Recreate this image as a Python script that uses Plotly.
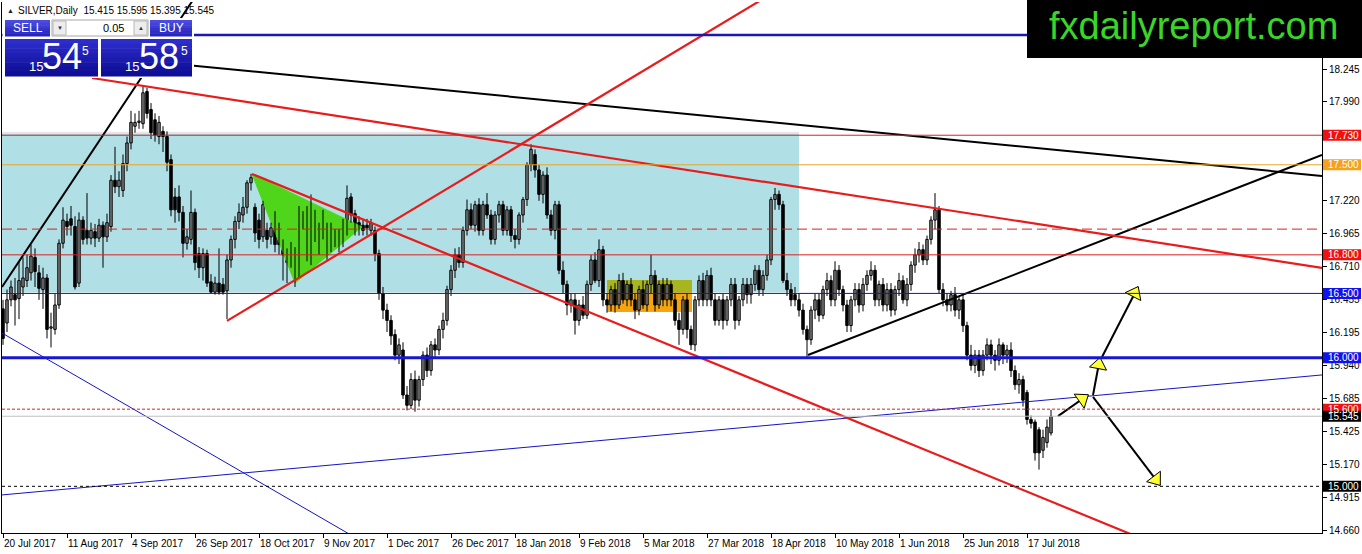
import math
import plotly.graph_objects as go

# ---------------- data ----------------
symbol = "SILVER,Daily"

x_tick_labels = ["20 Jul 2017", "11 Aug 2017", "4 Sep 2017", "26 Sep 2017", "18 Oct 2017",
                 "9 Nov 2017", "1 Dec 2017", "26 Dec 2017", "18 Jan 2018", "9 Feb 2018",
                 "5 Mar 2018", "27 Mar 2018", "18 Apr 2018", "10 May 2018", "1 Jun 2018",
                 "25 Jun 2018", "17 Jul 2018"]
x_tick_bars = [0, 16, 32, 48, 64, 80, 96, 112, 128, 144, 160, 176, 192, 208, 224, 240, 256]

y_tick_values = [18.245, 17.990, 17.735, 17.480, 17.220, 16.965, 16.710, 16.455,
                 16.195, 15.940, 15.685, 15.425, 15.170, 14.915, 14.660]
# tick labels fully covered by the price-label boxes in the reference
y_tick_hidden = [17.735, 17.480]

opens = [
 16.38,16.27,16.45,16.49,16.46,16.55,16.60,16.66,16.78,16.66,
 16.53,16.62,16.23,16.22,16.41,16.89,17.06,17.08,17.02,16.58,
 17.07,16.99,16.93,16.98,16.93,17.03,16.94,17.02,17.38,17.33,
 17.30,17.51,17.67,17.80,17.83,17.82,18.07,17.93,17.85,17.72,
 17.76,17.72,17.54,17.25,17.25,17.13,16.89,16.92,17.13,16.81,
 16.70,16.81,16.59,16.51,16.58,16.57,16.52,16.76,16.92,17.06,
 17.11,17.17,17.36,17.17,17.07,16.94,16.99,16.94,17.09,17.02,
 16.88,16.74,16.81,16.66,16.68,17.07,17.15,16.78,16.97,16.89,
 16.97,16.99,16.89,16.97,16.94,16.93,16.99,17.25,17.12,17.05,
 17.03,17.03,16.99,16.99,16.81,16.50,16.37,16.29,16.18,16.02,
 16.06,15.71,15.63,15.83,15.67,15.83,16.02,15.90,16.10,16.06,
 16.22,16.29,16.53,16.68,16.80,16.74,16.99,17.15,17.03,17.19,
 16.99,17.19,17.11,16.92,17.11,17.19,16.99,17.15,16.95,16.92,
 17.11,17.23,17.50,17.58,17.46,17.27,17.42,17.11,16.99,17.19,
 16.68,16.57,16.41,16.45,16.29,16.41,16.33,16.57,16.76,16.60,
 16.84,16.45,16.41,16.53,16.41,16.60,16.45,16.57,16.45,16.37,
 16.53,16.41,16.57,16.64,16.41,16.57,16.45,16.57,16.45,16.29,
 16.22,16.45,16.22,16.10,16.45,16.60,16.45,16.64,16.45,16.29,
 16.45,16.29,16.45,16.57,16.29,16.45,16.57,16.49,16.57,16.68,
 16.53,16.64,16.76,17.23,17.27,17.19,16.60,16.53,16.49,16.45,
 16.37,16.22,16.14,16.37,16.45,16.33,16.53,16.60,16.45,16.68,
 16.53,16.41,16.25,16.45,16.53,16.41,16.57,16.64,16.68,16.45,
 16.57,16.41,16.53,16.37,16.53,16.60,16.45,16.57,16.72,16.80,
 16.84,16.76,16.92,17.07,17.15,16.53,16.45,16.41,16.49,16.37,
 16.45,16.25,16.02,15.94,16.02,15.90,16.02,16.10,16.02,15.98,
 16.10,16.02,16.06,15.90,15.79,15.83,15.73,15.52,15.50,15.44,
 15.28,15.34,15.415]

highs = [
 16.45,16.53,16.60,16.62,16.75,16.78,16.80,16.88,16.85,16.72,
 16.70,16.65,16.35,16.50,16.92,17.17,17.12,17.18,17.10,17.13,
 17.10,17.28,17.05,17.04,17.08,17.06,17.12,17.42,17.64,17.45,
 17.58,17.72,17.92,17.90,17.92,18.12,18.10,17.98,17.90,17.88,
 17.80,17.76,17.58,17.32,17.34,17.18,17.00,17.30,17.16,16.86,
 16.85,16.84,16.65,16.63,16.85,16.62,16.80,16.95,17.10,17.20,
 17.25,17.38,17.43,17.20,17.12,17.22,17.05,17.05,17.14,17.05,
 16.92,16.85,16.90,16.86,17.18,17.14,17.18,17.27,17.15,17.05,
 17.15,17.05,17.05,17.00,17.00,17.08,17.34,17.28,17.15,17.10,
 17.08,17.08,17.08,17.02,16.84,16.55,16.42,16.33,16.22,16.15,
 16.12,15.78,15.88,15.90,15.86,16.05,16.08,16.13,16.15,16.25,
 16.35,16.56,16.72,16.85,16.86,17.02,17.23,17.20,17.22,17.24,
 17.22,17.28,17.15,17.14,17.22,17.22,17.18,17.18,17.00,17.13,
 17.25,17.52,17.66,17.62,17.50,17.45,17.48,17.15,17.22,17.22,
 16.75,16.60,16.50,16.50,16.45,16.48,16.60,16.80,16.82,16.92,
 16.87,16.50,16.56,16.58,16.65,16.66,16.60,16.62,16.50,16.56,
 16.60,16.60,16.80,16.68,16.60,16.62,16.62,16.60,16.50,16.35,
 16.48,16.50,16.25,16.48,16.64,16.66,16.68,16.70,16.50,16.48,
 16.50,16.48,16.62,16.62,16.48,16.62,16.62,16.62,16.72,16.72,
 16.68,16.80,17.25,17.32,17.30,17.22,16.66,16.58,16.55,16.50,
 16.42,16.25,16.40,16.50,16.50,16.56,16.66,16.64,16.75,16.72,
 16.56,16.45,16.48,16.58,16.58,16.62,16.68,16.75,16.72,16.60,
 16.62,16.58,16.58,16.56,16.66,16.64,16.62,16.75,16.85,16.90,
 16.88,16.95,17.10,17.28,17.18,16.58,16.50,16.52,16.55,16.48,
 16.50,16.28,16.10,16.06,16.06,16.06,16.15,16.14,16.06,16.15,
 16.12,16.10,16.12,15.94,15.88,15.86,15.75,15.55,15.52,15.46,
 15.44,15.52,15.595]

lows = [
 16.10,16.20,16.40,16.25,16.30,16.48,16.55,16.60,16.55,16.45,
 16.38,16.15,16.08,16.18,16.38,16.85,16.95,16.95,16.53,16.55,
 16.88,16.88,16.88,16.86,16.90,16.70,16.90,16.98,17.28,17.25,
 17.25,17.45,17.62,17.75,17.78,17.78,17.86,17.70,17.68,17.66,
 17.60,17.45,17.10,17.05,17.06,16.78,16.84,16.88,16.68,16.62,
 16.60,16.55,16.50,16.49,16.49,16.49,16.30,16.70,16.85,17.00,
 17.05,17.12,17.30,16.90,16.85,16.90,16.85,16.88,16.82,16.80,
 16.60,16.58,16.70,16.55,16.62,17.00,16.75,16.72,16.90,16.80,
 16.92,16.75,16.82,16.86,16.82,16.86,16.95,17.05,16.95,16.95,
 16.95,16.95,16.95,16.75,16.45,16.30,16.20,16.10,15.98,15.95,
 15.68,15.59,15.60,15.58,15.62,15.78,15.85,15.86,16.00,16.02,
 16.15,16.25,16.48,16.62,16.70,16.70,16.95,17.00,16.98,16.95,
 16.95,17.08,16.88,16.88,17.05,16.95,16.95,16.90,16.85,16.88,
 17.05,17.18,17.45,17.40,17.22,17.20,17.08,16.95,16.92,16.65,
 16.50,16.33,16.35,16.18,16.25,16.30,16.30,16.52,16.58,16.55,
 16.40,16.35,16.36,16.35,16.38,16.42,16.40,16.40,16.30,16.33,
 16.38,16.36,16.50,16.36,16.38,16.40,16.40,16.40,16.25,16.10,
 16.18,16.15,16.06,16.05,16.40,16.40,16.40,16.40,16.25,16.25,
 16.22,16.25,16.40,16.22,16.25,16.40,16.42,16.42,16.52,16.48,
 16.48,16.60,16.72,17.15,17.15,16.58,16.48,16.40,16.40,16.32,
 16.18,16.00,16.10,16.30,16.28,16.30,16.48,16.40,16.40,16.48,
 16.36,16.20,16.20,16.40,16.35,16.36,16.52,16.60,16.40,16.40,
 16.36,16.36,16.32,16.33,16.48,16.42,16.40,16.52,16.66,16.74,
 16.72,16.72,16.88,17.00,16.50,16.40,16.36,16.36,16.32,16.30,
 16.20,15.98,15.90,15.88,15.85,15.86,15.98,15.95,15.90,15.94,
 15.95,15.96,15.85,15.75,15.72,15.62,15.48,15.45,15.20,15.13,
 15.22,15.30,15.395]

closes = [
 16.15,16.45,16.55,16.45,16.60,16.62,16.70,16.79,16.67,16.54,
 16.62,16.22,16.24,16.41,16.89,17.07,17.02,17.03,16.55,17.07,
 16.92,16.93,16.99,16.93,17.03,16.94,17.05,17.38,17.33,17.38,
 17.51,17.67,17.83,17.83,17.84,18.06,17.90,17.75,17.73,17.83,
 17.72,17.52,17.15,17.15,17.13,16.89,16.94,17.13,16.74,16.70,
 16.81,16.58,16.51,16.58,16.51,16.51,16.76,16.92,17.06,17.13,
 17.17,17.36,17.40,16.97,16.92,17.19,16.92,17.01,16.88,16.88,
 16.80,16.81,16.78,16.81,17.13,17.09,16.81,17.17,17.09,16.98,
 17.09,16.81,16.99,16.92,16.90,17.02,17.24,17.11,16.99,17.01,
 16.99,17.01,17.05,16.81,16.50,16.37,16.29,16.17,16.02,16.10,
 15.71,15.63,15.83,15.67,15.83,16.02,15.90,16.10,16.06,16.22,
 16.29,16.53,16.68,16.80,16.74,16.99,17.15,17.03,17.19,16.99,
 17.19,17.11,16.92,17.11,17.19,16.99,17.15,16.95,16.92,17.11,
 17.23,17.50,17.62,17.46,17.27,17.42,17.11,16.99,17.19,16.68,
 16.57,16.41,16.45,16.29,16.41,16.33,16.57,16.76,16.60,16.84,
 16.45,16.41,16.53,16.41,16.60,16.45,16.57,16.45,16.37,16.53,
 16.41,16.57,16.64,16.41,16.57,16.45,16.57,16.45,16.29,16.22,
 16.45,16.22,16.10,16.45,16.60,16.45,16.64,16.45,16.29,16.45,
 16.29,16.45,16.57,16.29,16.45,16.57,16.49,16.57,16.68,16.53,
 16.64,16.76,17.23,17.27,17.19,16.60,16.53,16.45,16.45,16.37,
 16.22,16.14,16.37,16.45,16.33,16.53,16.60,16.45,16.68,16.53,
 16.41,16.25,16.45,16.53,16.41,16.57,16.64,16.68,16.45,16.57,
 16.41,16.53,16.37,16.53,16.60,16.45,16.57,16.72,16.80,16.84,
 16.76,16.92,17.07,17.15,16.53,16.45,16.41,16.49,16.37,16.45,
 16.25,16.02,15.94,16.02,15.90,16.02,16.10,16.02,15.98,16.10,
 16.02,16.06,15.90,15.79,15.83,15.67,15.52,15.49,15.26,15.26,
 15.38,15.46,15.545]

# horizontal price levels
level_blue_top = 18.51
level_red_1 = 17.730
level_orange = 17.500
level_red_dash = 17.00
level_red_2 = 16.800
level_blue_1 = 16.500
level_blue_2 = 16.000
level_red_dot = 15.600
level_bid = 15.545
level_black_dot = 15.000

# trend lines (bar index, price)
tl_black_left_x, tl_black_left_y = [-0.25, 47.25], [16.55, 18.77]
tl_black_top_x, tl_black_top_y = [35.5, 329.75], [18.308, 17.413]
tl_red_upper_x, tl_red_upper_y = [22.25, 329.75], [18.175, 16.698]
tl_red_down_x, tl_red_down_y = [62.25, 282.5], [17.429, 14.621]
tl_red_up_x, tl_red_up_y = [56.0, 190.0], [16.286, 18.79]
tl_black_right_x, tl_black_right_y = [201.25, 329.75], [16.021, 17.577]
tl_blue_up_x, tl_blue_up_y = [-0.25, 329.75], [14.933, 15.866]
tl_blue_down_x, tl_blue_down_y = [-0.25, 90.0], [16.192, 14.567]

# zones
zone_blue_x, zone_blue_y = [-0.5, 199.0], [16.51, 17.75]
zone_box_x, zone_box_y = [151.0, 172.25], [16.356, 16.505, 16.605]
tri_x = [62.25, 73.0, 89.75]
tri_y = [17.429, 16.581, 17.017]

# projection arrows (bar index, price)
arrows = [
    ([263.75, 271.25], [15.546, 15.710]),
    ([272.5, 274.25], [15.710, 15.998]),
    ([274.75, 283.75], [16.006, 16.550]),
    ([272.5, 289.25], [15.695, 15.010]),
]

sell_price = "15.545"
buy_price = "15.585"
lot = "0.05"

# ---------------- layout geometry ----------------
W, H = 1362, 554
ML, MR, MT, MB = 2, 40, 2, 21
PW, PH = W - ML - MR, H - MT - MB
XR = [-0.25, 329.75]
YR = [14.637, 18.766]
SX = PW / (XR[1] - XR[0])
SY = PH / (YR[1] - YR[0])


def pxx(p):
    return (p - ML) / PW


def pxy(p):
    return (H - MB - p) / PH


def py_price(v):
    return (v - YR[0]) / (YR[1] - YR[0])


n = len(closes)
bars = list(range(n))

fig = go.Figure()

# background zones (shapes below traces)
shapes = []
shapes.append(dict(type="rect", xref="x", yref="y", layer="below",
                   x0=zone_blue_x[0], x1=zone_blue_x[1], y0=zone_blue_y[0], y1=zone_blue_y[1],
                   fillcolor="#B0DFE5", line=dict(width=0)))
shapes.append(dict(type="line", xref="x", yref="y", layer="below",
                   x0=zone_blue_x[0], x1=zone_blue_x[1], y0=zone_blue_y[1], y1=zone_blue_y[1],
                   line=dict(color="#E4E8EA", width=2)))
shapes.append(dict(type="rect", xref="x", yref="y", layer="below",
                   x0=zone_box_x[0], x1=zone_box_x[1], y0=zone_box_y[1], y1=zone_box_y[2],
                   fillcolor="#A9B51F", line=dict(width=0)))
shapes.append(dict(type="rect", xref="x", yref="y", layer="below",
                   x0=zone_box_x[0], x1=zone_box_x[1], y0=zone_box_y[0], y1=zone_box_y[1],
                   fillcolor="#F7A50C", line=dict(width=0)))

# green triangle
fig.add_trace(go.Scatter(x=tri_x + [tri_x[0]], y=tri_y + [tri_y[0]], mode="lines",
                         fill="toself", fillcolor="#4FD61B", line=dict(color="#4FD61B", width=1),
                         hoverinfo="skip", showlegend=False))

# candles: wicks + bodies (MT4 style: white bull, black bear)
wick_x, wick_y = [], []
for i in bars:
    wick_x += [i, i, None]
    wick_y += [lows[i], highs[i], None]
fig.add_trace(go.Scatter(x=wick_x, y=wick_y, mode="lines", line=dict(color="black", width=1),
                         hoverinfo="skip", showlegend=False))

bull = [i for i in bars if closes[i] >= opens[i]]
bear = [i for i in bars if closes[i] < opens[i]]
for idx, fill in ((bull, "white"), (bear, "black")):
    fig.add_trace(go.Bar(
        x=idx,
        base=[min(opens[i], closes[i]) for i in idx],
        y=[max(abs(closes[i] - opens[i]), 0.006) for i in idx],
        width=0.62, marker=dict(color=fill, line=dict(color="black", width=1)),
        hoverinfo="skip", showlegend=False))

# trend lines
def tline(xs, ys, color, width):
    fig.add_trace(go.Scatter(x=xs, y=ys, mode="lines", line=dict(color=color, width=width),
                             hoverinfo="skip", showlegend=False))

tline(tl_blue_up_x, tl_blue_up_y, "#1414C8", 1)
tline(tl_blue_down_x, tl_blue_down_y, "#1414C8", 1)
tline(tl_black_top_x, tl_black_top_y, "#000000", 2)
tline(tl_black_left_x, tl_black_left_y, "#000000", 2)
tline(tl_black_right_x, tl_black_right_y, "#000000", 2)
tline(tl_red_upper_x, tl_red_upper_y, "#E81C1C", 2.2)
tline(tl_red_down_x, tl_red_down_y, "#E81C1C", 2.2)
tline(tl_red_up_x, tl_red_up_y, "#E81C1C", 2.2)

# arrows: black lines + yellow heads
head_x, head_y, head_a = [], [], []
for xs, ys in arrows:
    tline(xs, ys, "#000000", 2)
    dxp = (xs[1] - xs[0]) * SX
    dyp = -(ys[1] - ys[0]) * SY
    L = math.hypot(dxp, dyp)
    ux, uy = dxp / L, dyp / L
    head_x.append(xs[1] - 7 * ux / SX)
    head_y.append(ys[1] + 7 * uy / SY)
    head_a.append(math.degrees(math.atan2(dxp, -dyp)))
fig.add_trace(go.Scatter(x=head_x, y=head_y, mode="markers",
                         marker=dict(symbol="triangle-up", size=15, angle=head_a,
                                     color="#FFFF33", line=dict(color="black", width=1)),
                         hoverinfo="skip", showlegend=False))

# horizontal levels (above candles)
def hline(v, color, width, dash="solid"):
    shapes.append(dict(type="line", xref="paper", yref="y", layer="above",
                       x0=0, x1=1, y0=v, y1=v, line=dict(color=color, width=width, dash=dash)))

hline(level_bid, "#C0C0C0", 1)
hline(level_red_1, "#D92020", 1)
hline(level_orange, "#E9A426", 1)
hline(level_red_dash, "#D92020", 1, "10px,5px")
hline(level_red_2, "#D92020", 1)
hline(level_blue_1, "#16169A", 1)
hline(level_blue_2, "#1717D0", 3)
hline(level_red_dot, "#D92020", 1, "3px,2px")
hline(level_black_dot, "#000000", 1, "3px,3px")
hline(level_blue_top, "#1818B8", 2.5)

annotations = []

# price label boxes on the axis
label_boxes = [
    (level_red_1, "#F01010"), (level_orange, "#F5A11C"), (level_red_2, "#F01010"),
    (level_blue_1, "#1010F0"), (level_blue_2, "#1010F0"), (level_red_dot, "#F01010"),
    (level_bid, "#000000"), (level_black_dot, "#000000"),
]
for v, c in label_boxes:
    yc = py_price(v)
    h = 5.5 / PH
    shapes.append(dict(type="rect", xref="paper", yref="paper", layer="above",
                       x0=pxx(1323), x1=pxx(1361), y0=yc - h, y1=yc + h,
                       fillcolor=c, line=dict(width=0)))
    annotations.append(dict(xref="paper", yref="paper", x=pxx(1326), y=yc, xanchor="left",
                            yanchor="middle", text="%.3f" % v, showarrow=False,
                            font=dict(family="Liberation Sans", size=10, color="white")))

# ---- trading panel ----
def prect(x0, y0, x1, y1, fill, lc=None, lw=0):
    shapes.append(dict(type="rect", xref="paper", yref="paper", layer="above",
                       x0=pxx(x0), x1=pxx(x1), y0=pxy(y1), y1=pxy(y0),
                       fillcolor=fill, line=dict(color=lc or fill, width=lw)))

def grad(x0, y0, x1, y1, top, bottom, steps=6):
    def hx(c):
        return [int(c[i:i + 2], 16) for i in (1, 3, 5)]
    a, b = hx(top), hx(bottom)
    hgt = (y1 - y0) / steps
    for s in range(steps):
        t = s / (steps - 1)
        col = "#%02X%02X%02X" % tuple(int(a[k] + (b[k] - a[k]) * t) for k in range(3))
        prect(x0, y0 + s * hgt, x1, y0 + (s + 1) * hgt + 0.5, col)

prect(2.5, 18, 194, 78, "white")
grad(5, 20, 50, 36, "#4B4BE0", "#2626BE")
grad(150, 20, 192, 36, "#4B4BE0", "#2626BE")
prect(52, 20, 148, 36, "white", "#A8A8A8", 1)
prect(53, 21, 66, 35, "#EDEDED", "#B8B8B8", 1)
prect(134, 21, 147, 35, "#EDEDED", "#B8B8B8", 1)
grad(5, 39, 98, 76, "#2D2DCC", "#0E0E96", 8)
grad(101, 39, 192, 76, "#2D2DCC", "#0E0E96", 8)


def ptext(x, y, text, size, color, xanchor="center", family="Liberation Sans"):
    annotations.append(dict(xref="paper", yref="paper", x=pxx(x), y=pxy(y), text=text,
                            xanchor=xanchor, yanchor="middle", showarrow=False,
                            font=dict(family=family, size=size, color=color)))

ptext(27.5, 28, "SELL", 12, "white")
ptext(171, 28, "BUY", 12, "white")
ptext(126, 28, lot, 11, "black", "right")
ptext(59.5, 28, "▼", 6, "#333333")
ptext(140.5, 28, "▲", 6, "#333333")
ptext(35.5, 66, sell_price[:2], 13, "white")
ptext(61.5, 57, sell_price[3:5], 36, "white")
ptext(86, 51, sell_price[5:], 12, "white")
ptext(132, 66, buy_price[:2], 13, "white")
ptext(158.5, 57, buy_price[3:5], 36, "white")
ptext(184.5, 51, buy_price[5:], 12, "white")

header = "%s  %.3f %.3f %.3f %.3f" % (symbol, opens[-1], highs[-1], lows[-1], closes[-1])
ptext(5, 11, "▲", 7, "#222222", "left")
ptext(16, 11, header, 10, "black", "left")

# logo
prect(1027, 0, 1362, 58, "black")
ptext(1193, 26, "fxdailyreport.com", 38, "#3BD52A")

# x-axis labels (left aligned like MT4)
for b, t in zip(x_tick_bars, x_tick_labels):
    annotations.append(dict(xref="x", yref="paper", x=b, y=pxy(543), text=t,
                            xanchor="left", yanchor="middle", xshift=-1, showarrow=False,
                            font=dict(family="Liberation Sans", size=10, color="black")))

fig.update_layout(
    width=W, height=H,
    margin=dict(l=ML, r=MR, t=MT, b=MB),
    paper_bgcolor="white", plot_bgcolor="white",
    showlegend=False, barmode="overlay",
    shapes=shapes, annotations=annotations,
    xaxis=dict(range=XR, showgrid=False, zeroline=False,
               tickvals=x_tick_bars, showticklabels=False, ticks="outside", ticklen=4,
               tickcolor="black", showline=True, linecolor="black", linewidth=1,
               fixedrange=True),
    yaxis=dict(range=YR, side="right", showgrid=False, zeroline=False,
               tickvals=y_tick_values,
               ticktext=["" if v in y_tick_hidden else "%.3f" % v for v in y_tick_values],
               ticks="outside", ticklen=4, tickcolor="black",
               tickfont=dict(family="Liberation Sans", size=10, color="black"),
               showline=True, mirror=True, linecolor="black", linewidth=1,
               fixedrange=True),
)

fig.write_html("out.html", config={"displayModeBar": False},
               post_script="document.body.style.margin='0';")
